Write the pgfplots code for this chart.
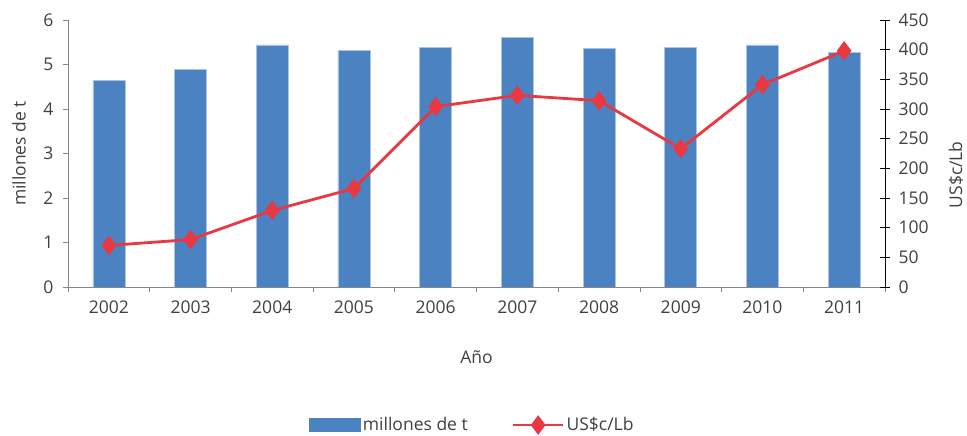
\documentclass[border=0pt]{standalone}
\usepackage{pgfplots}
\pgfplotsset{compat=1.18}
\usepackage{fontspec}
\setmainfont{Open Sans}
\definecolor{barblue}{RGB}{74,130,194}
\definecolor{baredge}{RGB}{170,195,230}
\definecolor{linered}{RGB}{233,56,65}
\definecolor{txt}{RGB}{64,64,64}
\definecolor{axgray}{RGB}{134,134,134}
\newcommand{\lf}{\fontsize{17.5}{21}\selectfont}
\pgfplotsset{
  redleg/.style={legend image code/.code={\draw[mark repeat=2,mark phase=2,##1] plot coordinates {(0pt,0pt)(25pt,0pt)(50pt,0pt)};}},
  barleg/.style={legend image code/.code={\fill[barblue] (0pt,-6.5pt) rectangle (51pt,6.5pt);}},
}
\begin{document}
\begin{tikzpicture}
\path[use as bounding box] (0,0) rectangle (967pt,436pt);
\begin{axis}[
  at={(68pt,149pt)}, anchor=south west,
  scale only axis, width=817pt, height=267pt,
  xmin=-0.5, xmax=9.5, ymin=0, ymax=6,
  axis x line*=bottom, axis y line*=left,
  axis line style={axgray, line width=0.8pt, -},
  xtick={0,1,2,3,4,5,6,7,8,9},
  xticklabels={2002,2003,2004,2005,2006,2007,2008,2009,2010,2011},
  major x tick style={draw=none},
  minor xtick={-0.5,0.5,1.5,2.5,3.5,4.5,5.5,6.5,7.5,8.5,9.5},
  minor x tick style={axgray, line width=0.8pt},
  minor tick length=5pt,
  ytick={0,1,2,3,4,5,6},
  y tick style={axgray, line width=0.8pt},
  major tick length=5pt,
  tick align=outside,
  /pgf/number format/assume math mode=true,
  tick label style={font=\lf, text=txt},
  xticklabel style={yshift=-5pt},
  yticklabel style={xshift=-6pt},
  label style={font=\lf, text=txt},
  ylabel={millones de t},
  ylabel style={at={(axis description cs:-0.06,0.5)}, anchor=center},
  xlabel={Año},
  xlabel style={at={(axis description cs:0.5,0)}, yshift=-70pt, anchor=center},
  legend style={at={(axis description cs:0.495,-0.517)}, anchor=center, draw=none,
    legend columns=2, font=\lf, text=txt,
    nodes={inner sep=2pt},
    /tikz/every even column/.append style={column sep=42pt}},
  legend cell align=left,
]
\addplot[ybar, bar width=32pt, fill=barblue, draw=baredge, line width=0.6pt, barleg]
  coordinates {(0,4.64) (1,4.89) (2,5.44) (3,5.31) (4,5.39) (5,5.60) (6,5.36) (7,5.39) (8,5.44) (9,5.27)};
\addlegendentry{millones de t}
\addlegendimage{linered, line width=2.8pt, mark=diamond*, mark size=7.5pt, redleg}
\addlegendentry{US\$c/Lb}
\end{axis}
\begin{axis}[
  at={(68pt,149pt)}, anchor=south west,
  scale only axis, width=817pt, height=267pt,
  xmin=-0.5, xmax=9.5, ymin=0, ymax=450,
  axis x line=none, axis y line*=right,
  axis line style={black, line width=0.8pt, -},
  ytick={0,50,100,150,200,250,300,350,400,450},
  y tick style={black, line width=0.8pt},
  tick align=center, major tick length=10pt,
  /pgf/number format/assume math mode=true,
  tick label style={font=\lf, text=txt},
  yticklabel style={xshift=5pt},
  label style={font=\lf, text=txt},
  ylabel={US\$c/Lb},
  ylabel style={at={(axis description cs:1.0869,0.42)}, anchor=center},
]
\addplot[linered, line width=2.8pt, mark=diamond*, mark size=7.5pt]
  coordinates {(0,70) (1,80) (2,129) (3,166) (4,304) (5,323) (6,314) (7,233) (8,341) (9,398)};
\end{axis}
\end{tikzpicture}
\end{document}
